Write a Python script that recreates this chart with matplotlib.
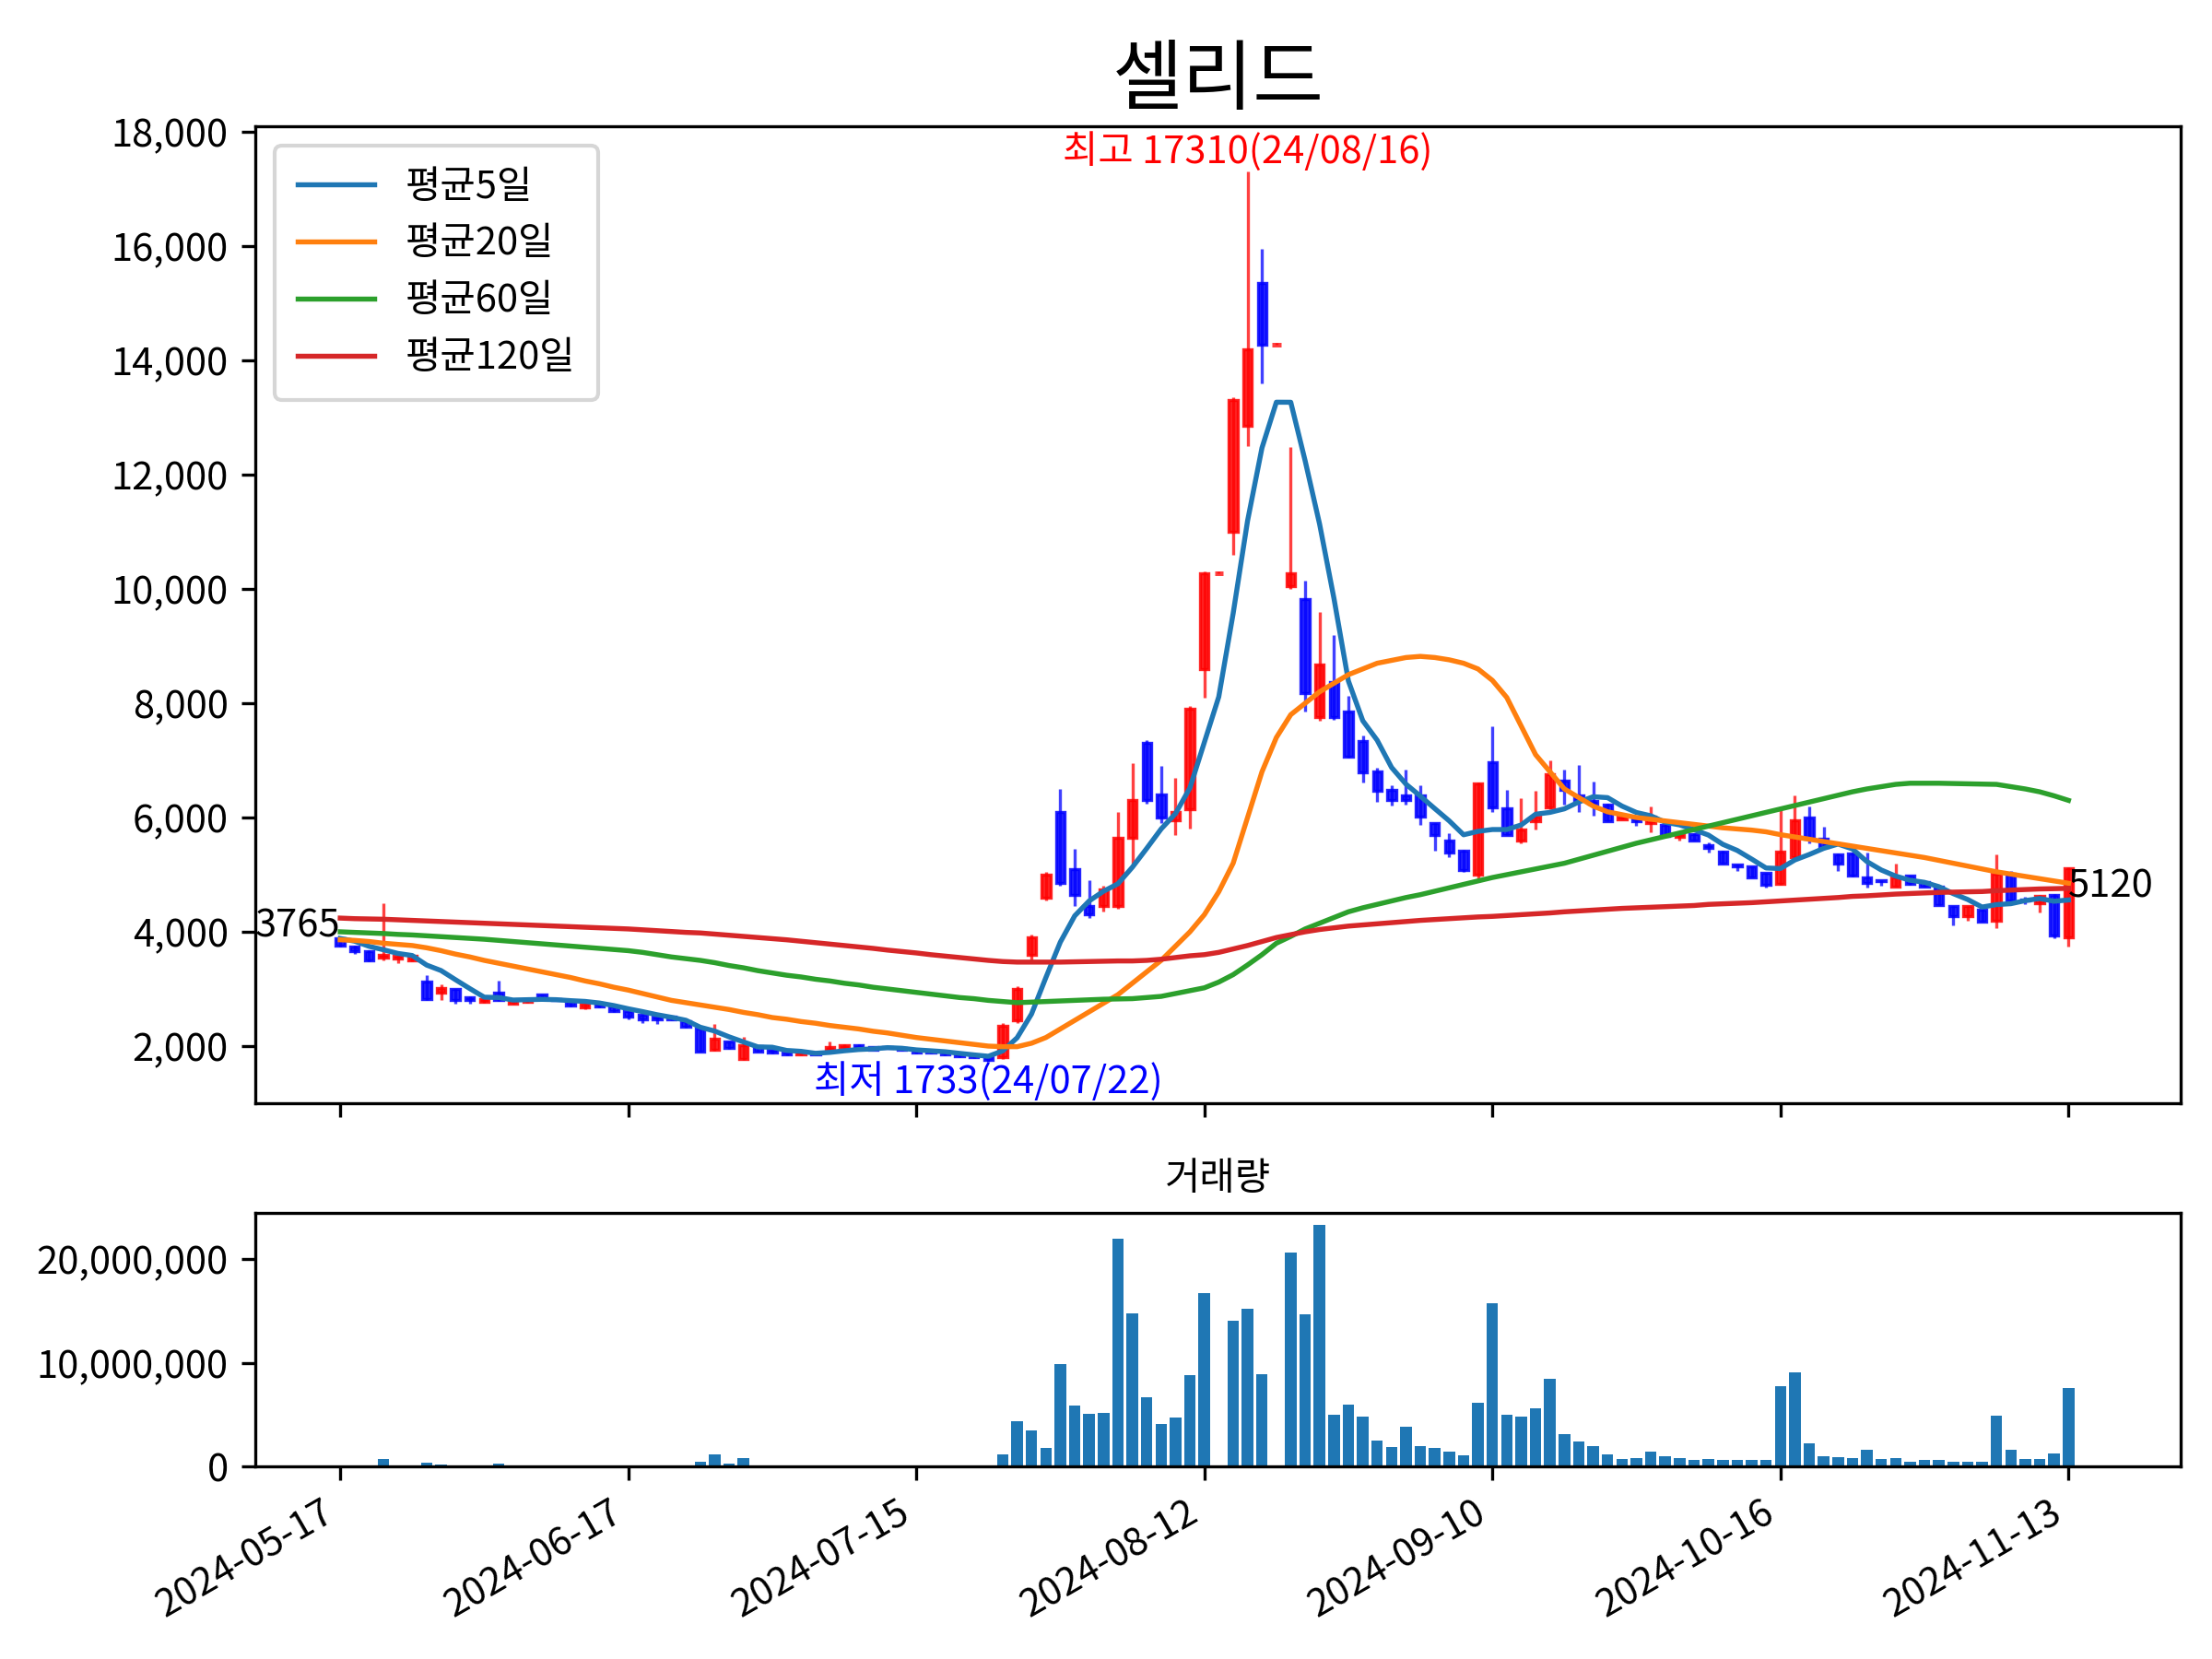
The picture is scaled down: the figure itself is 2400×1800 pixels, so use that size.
import numpy as np
import pandas as pd
import matplotlib
matplotlib.use("Agg")
import matplotlib.pyplot as plt
from matplotlib.ticker import FuncFormatter

plt.rcParams['font.family'] = ['Noto Sans CJK KR', 'DejaVu Sans']
plt.rcParams['axes.unicode_minus'] = False

# Korean trading days, 2024-05-17 .. 2024-11-13
holidays = ["2024-06-06", "2024-08-15", "2024-09-16", "2024-09-17", "2024-09-18",
            "2024-10-01", "2024-10-03", "2024-10-09"]
dates = pd.bdate_range("2024-05-17", "2024-11-13", freq="C", holidays=holidays)

open_ = [3888, 3750, 3665, 3550, 3530, 3500, 3135, 2940, 3000, 2855,
         2770, 2940, 2750, 2770, 2900, 2830, 2770, 2680, 2745, 2690,
         2605, 2550, 2520, 2520, 2440, 2300, 1935, 2075, 1770, 2000,
         1935, 1880, 1850, 1880, 1935, 1960, 2020, 1990, 1990, 1960,
         1935, 1920, 1880, 1850, 1830, 1820, 1800, 2450, 3600, 4600,
         6100, 5100, 4450, 4450, 4450, 5650, 7300, 6400, 5950, 6150,
         8600, 10280, 11000, 12850, 15360, 14280, 10050, 9815, 7760, 8375,
         7860, 7340, 6800, 6480, 6390, 6380, 5900, 5600, 5420, 4997,
         6960, 6160, 5600, 5930, 6170, 6650, 6390, 6290, 6230, 5965,
         5965, 5910, 5870, 5660, 5710, 5520, 5410, 5170, 5143, 5035,
         4840, 5300, 6000, 5630, 5360, 5375, 4955, 4900, 4795, 4980,
         4875, 4795, 4445, 4280, 4390, 4200, 5010, 4560, 4500, 4650,
         3910]
close = [3765, 3665, 3500, 3600, 3580, 3580, 2830, 3020, 2800, 2800,
         2830, 2800, 2800, 2830, 2830, 2800, 2715, 2735, 2690, 2605,
         2520, 2465, 2465, 2465, 2345, 1910, 2130, 1960, 2020, 1910,
         1880, 1850, 1880, 1850, 1990, 2020, 1960, 1935, 1960, 1935,
         1880, 1880, 1850, 1820, 1800, 1760, 2350, 3000, 3900, 5000,
         4850, 4650, 4300, 4750, 5650, 6300, 6300, 6000, 6100, 7900,
         10280, 10280, 13300, 14200, 14280, 14280, 10275, 8170, 8680, 7760,
         7070, 6790, 6460, 6300, 6300, 6020, 5700, 5390, 5080, 6600,
         6180, 5700, 5790, 6020, 6760, 6490, 6300, 6250, 5940, 6020,
         5930, 6010, 5685, 5710, 5600, 5460, 5200, 5150, 4955, 4820,
         5410, 5950, 5630, 5490, 5200, 4980, 4850, 4890, 4955, 4840,
         4795, 4470, 4280, 4445, 4175, 5010, 4550, 4550, 4630, 3935,
         5120]
high = [3900, 3760, 3670, 4500, 3600, 3590, 3250, 3080, 3000, 2870,
        2850, 3150, 2810, 2840, 2910, 2835, 2780, 2750, 2750, 2700,
        2610, 2560, 2530, 2530, 2450, 2310, 2380, 2080, 2160, 2010,
        1940, 1890, 1890, 1885, 2080, 2030, 2030, 2000, 2000, 1965,
        1940, 1925, 1885, 1855, 1840, 1830, 2400, 3050, 3950, 5050,
        6500, 5450, 4900, 4800, 6100, 6950, 7350, 6900, 6700, 7950,
        10300, 10300, 13350, 17310, 15950, 14300, 12485, 10150, 9600, 9200,
        8130, 7430, 6870, 6570, 6840, 6560, 5910, 5730, 5430, 6620,
        7590, 6480, 6340, 6460, 7000, 6840, 6920, 6630, 6240, 6030,
        5990, 6200, 5880, 5750, 5720, 5560, 5420, 5180, 5150, 5040,
        6165, 6380, 6190, 5840, 5370, 5380, 5385, 4905, 5200, 4990,
        4880, 4800, 4450, 4450, 4400, 5360, 5060, 4620, 4640, 4660,
        5130]
low = [3740, 3620, 3490, 3500, 3450, 3490, 2800, 2800, 2740, 2750,
       2760, 2790, 2740, 2760, 2820, 2790, 2700, 2640, 2680, 2600,
       2470, 2400, 2380, 2450, 2330, 1900, 1920, 1950, 1760, 1900,
       1870, 1840, 1840, 1845, 1930, 1950, 1950, 1930, 1955, 1925,
       1870, 1870, 1840, 1810, 1790, 1733, 1770, 2400, 3500, 4550,
       4800, 4450, 4250, 4350, 4400, 5200, 6250, 5900, 5700, 5800,
       8100, 10280, 10600, 12500, 13600, 14280, 10000, 7860, 7700, 7710,
       7050, 6610, 6280, 6210, 6220, 5870, 5420, 5310, 5050, 4870,
       6100, 5690, 5550, 5790, 6150, 6220, 6090, 6030, 5930, 5960,
       5860, 5740, 5680, 5600, 5590, 5380, 5190, 5060, 4950, 4780,
       4830, 5290, 5550, 5480, 5060, 4960, 4770, 4800, 4790, 4830,
       4790, 4460, 4120, 4200, 4170, 4070, 4540, 4480, 4340, 3880,
       3740]
volume_m = [0.1, 0.1, 0.1, 0.7, 0.1, 0.1, 0.4, 0.2, 0.1, 0.1,
            0.1, 0.25, 0.1, 0.05, 0.05, 0.05, 0.05, 0.05, 0.05, 0.05,
            0.05, 0.05, 0.05, 0.05, 0.1, 0.5, 1.2, 0.3, 0.8, 0.1,
            0.05, 0.05, 0.05, 0.05, 0.15, 0.1, 0.05, 0.05, 0.05, 0.05,
            0.05, 0.05, 0.05, 0.05, 0.05, 0.1,
            1.2, 4.4, 3.5, 1.8, 9.9, 5.9, 5.1, 5.2, 22.0, 14.8,
            6.7, 4.1, 4.7, 8.8, 16.7, 0.0, 14.1, 15.2, 8.9, 0.0,
            20.7, 14.7, 23.3, 5.0, 6.0, 4.8, 2.5, 1.9, 3.8, 2.0,
            1.8, 1.4, 1.1, 6.2, 15.8, 5.0, 4.8, 5.6, 8.5, 3.1,
            2.4, 2.0, 1.2, 0.7, 0.8, 1.4, 1.0, 0.8, 0.6, 0.7,
            0.6, 0.6, 0.6, 0.6, 7.8, 9.1, 2.2, 1.0, 0.9, 0.8,
            1.6, 0.7, 0.8, 0.5, 0.6, 0.6, 0.5, 0.5, 0.5, 4.9,
            1.6, 0.7, 0.7, 1.3, 7.6]

# closes of the 4 sessions before the window (needed for the 5-day mean)
prior_close = [3900, 3950, 3900, 3900]

ma20 = [3860, 3850, 3830, 3800, 3780, 3760, 3720, 3670, 3610, 3560,
        3500, 3450, 3400, 3350, 3300, 3250, 3200, 3140, 3090, 3030,
        2980, 2920, 2860, 2800, 2760, 2720, 2680, 2640, 2590, 2550,
        2500, 2470, 2430, 2400, 2360, 2330, 2300, 2260, 2230, 2190,
        2150, 2120, 2090, 2060, 2030, 2000, 1990, 1990, 2050, 2150,
        2300, 2450, 2600, 2750, 2900, 3100, 3300, 3500, 3750, 4000,
        4300, 4700, 5200, 6000, 6800, 7400, 7800, 8000, 8200, 8350,
        8500, 8600, 8700, 8750, 8800, 8820, 8800, 8760, 8700, 8600,
        8400, 8100, 7600, 7100, 6800, 6500, 6350, 6200, 6100, 6050,
        6000, 5970, 5940, 5910, 5880, 5850, 5820, 5800, 5780, 5750,
        5700, 5660, 5620, 5580, 5540, 5500, 5460, 5420, 5380, 5340,
        5300, 5250, 5200, 5150, 5100, 5050, 5010, 4970, 4930, 4890,
        4850]
ma60 = [4000, 3990, 3980, 3970, 3955, 3945, 3930, 3915, 3900, 3885,
        3870, 3850, 3830, 3810, 3790, 3770, 3750, 3730, 3710, 3690,
        3670, 3640, 3600, 3560, 3530, 3500, 3460, 3410, 3370, 3320,
        3280, 3240, 3210, 3170, 3140, 3100, 3070, 3030, 3000, 2970,
        2940, 2910, 2880, 2850, 2830, 2800, 2780, 2760, 2770, 2780,
        2790, 2800, 2810, 2820, 2825, 2830, 2850, 2870, 2920, 2970,
        3020, 3120, 3250, 3420, 3600, 3800, 3920, 4050, 4150, 4250,
        4350, 4420, 4480, 4540, 4600, 4650, 4710, 4770, 4830, 4890,
        4950, 5000, 5050, 5100, 5150, 5200, 5270, 5340, 5410, 5480,
        5550, 5610, 5670, 5730, 5790, 5850, 5910, 5970, 6030, 6090,
        6150, 6210, 6270, 6330, 6390, 6450, 6500, 6540, 6580, 6600,
        6600, 6600, 6595, 6590, 6585, 6580, 6540, 6500, 6450, 6380,
        6300]
ma120 = [4240, 4230, 4225, 4220, 4210, 4200, 4190, 4180, 4170, 4160,
         4150, 4140, 4130, 4120, 4110, 4100, 4090, 4080, 4070, 4060,
         4050, 4035, 4020, 4005, 3990, 3980, 3960, 3940, 3920, 3900,
         3880, 3860, 3835, 3810, 3785, 3760, 3735, 3710, 3680, 3655,
         3630, 3600, 3575, 3550, 3525, 3500, 3480, 3470, 3470, 3470,
         3470, 3475, 3480, 3485, 3490, 3490, 3500, 3520, 3550, 3580,
         3600, 3640, 3700, 3760, 3830, 3900, 3950, 4000, 4040, 4070,
         4100, 4120, 4140, 4160, 4180, 4200, 4215, 4230, 4245, 4260,
         4270, 4285, 4300, 4315, 4330, 4350, 4365, 4380, 4395, 4410,
         4420, 4430, 4440, 4450, 4460, 4480, 4490, 4500, 4510, 4525,
         4540, 4555, 4570, 4585, 4600, 4620, 4630, 4645, 4660, 4670,
         4680, 4690, 4695, 4700, 4705, 4720, 4730, 4740, 4750, 4755,
         4760]

df = pd.DataFrame({"open": open_, "high": high, "low": low, "close": close,
                   "volume": np.array(volume_m) * 1e6}, index=dates)
x = np.arange(len(df))
ma5 = pd.Series(prior_close + close).rolling(5).mean().to_numpy()[len(prior_close):]

fig = plt.figure(figsize=(8, 6), dpi=300)
ax = fig.add_axes([0.1154, 0.335, 0.8705, 0.589])
axv = fig.add_axes([0.1154, 0.116, 0.8705, 0.153], sharex=ax)

# candles: red up, blue down
up = df["close"] >= df["open"]
colors = np.where(up, "red", "blue")
ax.vlines(x, df["low"], df["high"], colors=colors, linewidth=0.8, alpha=0.75)
body_h = (df["close"] - df["open"]).abs().to_numpy()
body_b = np.minimum(df["open"], df["close"]).to_numpy()
flat = body_h == 0
ax.bar(x[~flat], body_h[~flat], bottom=body_b[~flat], width=0.6,
       color=colors[~flat], edgecolor=colors[~flat], linewidth=0.8, alpha=0.85)
ax.hlines(body_b[flat], x[flat] - 0.3, x[flat] + 0.3, colors=colors[flat],
          linewidth=1.2, alpha=0.75)

ax.plot(x, ma5, color="C0", lw=1.3, label="평균5일")
ax.plot(x, ma20, color="C1", lw=1.3, label="평균20일")
ax.plot(x, ma60, color="C2", lw=1.3, label="평균60일")
ax.plot(x, ma120, color="C3", lw=1.3, label="평균120일")
ax.legend(loc="upper left", fontsize=10, handlelength=2, borderpad=0.6)

hi = int(np.argmax(df["high"]))
lo = int(np.argmin(df["low"]))
ax.text(hi, df["high"].iloc[hi], f"최고 {df['high'].iloc[hi]}({dates[hi]:%y/%m/%d})",
        color="red", ha="center", va="bottom", fontsize=10)
ax.text(lo, df["low"].iloc[lo], f"최저 {df['low'].iloc[lo]}({dates[lo]:%y/%m/%d})",
        color="blue", ha="center", va="top", fontsize=10)
ax.text(x[0], close[0], f"{close[0]}", ha="right", va="bottom", fontsize=10)
ax.text(x[-1], close[-1], f"{close[-1]}", ha="left", va="top", fontsize=10)

ax.set_title("셀리드", fontsize=20)
ax.set_ylim(1000, 18100)
ax.set_xlim(-5.9, 127.8)
ax.yaxis.set_major_formatter(FuncFormatter(lambda v, p: f"{v:,.0f}"))
ticks = x[::20]
ax.set_xticks(ticks)
ax.tick_params(labelbottom=False, labelsize=10)

axv.bar(x, df["volume"], width=0.8, color="C0")
axv.set_title("거래량", fontsize=10)
axv.set_ylim(0, 24.5e6)
axv.yaxis.set_major_formatter(FuncFormatter(lambda v, p: f"{v:,.0f}"))
axv.set_xticks(ticks)
axv.set_xticklabels([f"{d:%Y-%m-%d}" for d in dates[::20]], rotation=30, ha="right")
axv.tick_params(labelsize=10)

fig.savefig("out.png", dpi=300)
